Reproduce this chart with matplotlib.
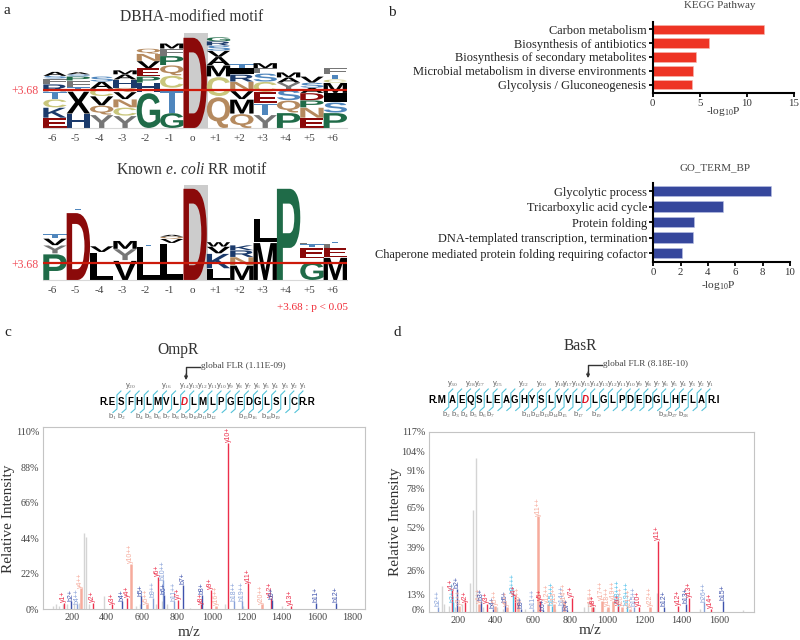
#!/usr/bin/env python3
# -*- coding: utf-8 -*-
"""Motif logos, enrichment bars and two annotated MS/MS spectra."""

import matplotlib
matplotlib.use('Agg')
import matplotlib.pyplot as plt
from matplotlib.font_manager import FontProperties
from matplotlib.patches import PathPatch
from matplotlib.textpath import TextPath
from matplotlib.transforms import Affine2D

plt.rcParams['font.family'] = ['Liberation Serif', 'DejaVu Serif']
plt.rcParams['mathtext.fontset'] = 'custom'
plt.rcParams['mathtext.rm'] = 'Liberation Serif'
plt.rcParams['mathtext.it'] = 'Liberation Serif:italic'
plt.rcParams['mathtext.bf'] = 'Liberation Serif:bold'

# LOGO DATA (letters from the bottom of each stack upwards)
POSITIONS = ['-6', '-5', '-4', '-3', '-2', '-1', 'o',
             '+1', '+2', '+3', '+4', '+5', '+6']
MOTIF1_LETTERS = ['EKCTRFSA', 'HXTFPSA', 'YQVCAS', 'YCNVQHAM', 'GHPEVNQ',
                  'GTCQPFM', 'D', 'QCMAVSRG', 'QMVNRIT', 'YTECSFM', 'PQSYAM',
                  'ENPDASV', 'PSIMCTF']
MOTIF1_HEIGHTS = [[1.0, 1.0, 0.8, 0.75, 0.7, 0.55, 0.25, 0.4],
                  [1.4, 2.2, 0.4, 0.6, 0.4, 0.2, 0.2],
                  [1.3, 0.9, 0.9, 0.7, 0.7, 0.5],
                  [1.2, 0.8, 0.8, 0.7, 0.4, 0.8, 0.5, 0.4],
                  [3.5, 0.9, 0.6, 0.8, 0.7, 0.7, 0.5],
                  [1.5, 2.4, 1.2, 1.0, 0.9, 0.7, 0.5],
                  [9.1],
                  [3.1, 1.9, 1.1, 0.8, 0.6, 0.5, 0.4, 0.4],
                  [1.4, 1.4, 0.8, 0.9, 0.7, 0.6, 0.4],
                  [1.3, 1.1, 1.1, 1.0, 0.8, 0.5, 0.5],
                  [1.5, 1.2, 1.0, 0.7, 0.5, 0.5],
                  [1.0, 1.0, 0.7, 0.7, 0.5, 0.5, 0.6],
                  [1.5, 1.0, 0.9, 1.0, 0.3, 0.5, 0.6]]
MOTIF2_LETTERS = ['PYVT', 'DT', 'LV', 'VYM', 'LT', 'LVQA', 'D', 'LKVW',
                  'MNRK', 'ML', 'P', 'G ETF', 'MEFT']
MOTIF2_HEIGHTS = [[5.9, 1.8, 1.5, 1.0], [15.4, 0.3], [6.2, 1.3],
                  [4.4, 2.5, 1.8], [7.5, 0.2], [8.2, 0.9, 0.5, 0.4], [21.0],
                  [2.6, 3.3, 1.5, 1.0], [3.3, 1.8, 1.5, 1.1], [8.5, 5.1],
                  [21.0], [4.1, 0.7, 2.4, 0.8, 0.2], [5.1, 2.0, 1.0, 0.4]]
THRESHOLD = 3.68

# ENRICHMENT DATA
KEGG_TERMS = ['Carbon metabolism', 'Biosynthesis of antibiotics',
              'Biosynthesis of secondary metabolites',
              'Microbial metabolism in diverse environments',
              'Glycolysis / Gluconeogenesis']
KEGG_VALUES = [11.8, 6.0, 4.6, 4.3, 4.2]
GO_TERMS = ['Glycolytic process', 'Tricarboxylic acid cycle',
            'Protein folding', 'DNA-templated transcription, termination',
            'Chaperone mediated protein folding requiring cofactor']
GO_VALUES = [8.6, 5.1, 3.0, 2.9, 2.1]

# SPECTRUM DATA
OMPR_LABELS = ['y1+', 'b2+', 'b4++', 'y4++', 'y2+', 'y3+', 'b4+', 'y4+',
               'y10++', 'b5+', 'y5++', 'b9++', 'y6+', 'b10++', 'b6+', 'b11++',
               'y7+', 'b7+', 'y8+', 'b8+', 'y9+', 'y16++', 'y10+', 'b18++',
               'b19++', 'y11+', 'y20++', 'y12+', 'b9+', 'y13+', 'b11+', 'b12+']
OMPR_MZ = [156, 194, 232, 251, 320, 432, 486, 518, 537, 596, 630, 663, 691,
           720, 730, 785, 810, 834, 939, 945, 994, 1025, 1095, 1128, 1173,
           1209, 1286, 1337, 1347, 1451, 1594, 1709]
OMPR_INT = [4, 5, 3, 13, 4, 3, 5, 7, 28, 8, 3, 7, 20, 18, 9, 5, 6, 15, 3, 9,
            12, 2, 103, 5, 5, 16, 3, 7, 6, 2, 4, 4]
OMPR_GRAY_MZ = [95, 110, 125, 150, 175, 215, 240, 270, 284, 300, 385, 570,
                590, 680, 715, 745, 875, 1076, 1180, 1400, 1420]
OMPR_GRAY_INT = [2, 3, 2, 3, 3, 3, 4, 47, 45, 3, 8, 2, 3, 3, 5, 3, 1, 3, 2,
                 2, 1]
OMPR_X_TICKS = [200, 400, 600, 800, 1000, 1200, 1400, 1600, 1800]
OMPR_Y_TICKS = [0, 22, 44, 66, 88, 110]

BASR_LABELS = ['b2++', 'y1+', 'b2+', 'b3+++', 'y3++', 'y2+', 'y4++', 'b3+',
               'y3+', 'b4+', 'y5++', 'b5+', 'y6++', 'b9+++', 'y4+', 'y8++',
               'b9+', 'b11++', 'y11++', 'y5+', 'b6+', 'y12++', 'b15+++',
               'y13++', 'b14++', 'y14++', 'b7+', 'y7+', 'y16++', 'y8+',
               'y17++', 'y18++', 'y19++', 'b18+++', 'y9+', 'y20++', 'b19+++',
               'y21++', 'b15++', 'y10+', 'y22++', 'y11+', 'b12+', 'y12+',
               'b13+', 'y13+', 'b26++', 'y14+', 'b15+']
BASR_MZ = [93, 164, 195, 172, 205, 236, 311, 322, 352, 384, 397, 451, 460,
           495, 504, 522, 537, 600, 630, 639, 653, 680, 701, 714, 755, 770,
           785, 809, 916, 925, 970, 1002, 1033, 1056, 1059, 1077, 1104, 1122,
           1145, 1170, 1230, 1271, 1305, 1382, 1421, 1441, 1520, 1557, 1620]
BASR_INT = [3, 14, 15, 6, 4, 6, 5, 7, 5, 2, 4, 6, 3, 12, 10, 6, 2, 2, 62, 7,
            1, 5, 4, 5, 4, 6, 1, 9, 3, 3, 7, 3, 7, 5, 4, 3, 4, 2, 3, 3, 3, 46,
            3, 4, 5, 9, 6, 2, 7]
BASR_GRAY_MZ = [112, 125, 150, 180, 220, 263, 281, 295, 330, 410, 440, 560,
                720, 875, 898, 930, 1000, 1265, 1500, 1731]
BASR_GRAY_INT = [17, 5, 4, 3, 5, 19, 66, 100, 3, 3, 2, 2, 2, 3, 6, 3, 2, 12,
                 2, 1]
BASR_X_TICKS = [200, 400, 600, 800, 1000, 1200, 1400, 1600]
BASR_Y_TICKS = [0, 13, 26, 39, 52, 65, 78, 91, 104, 117]
BASR_Y_LABEL_AT = [1.5, 11.5, 26.6, 41.8, 55, 68, 80, 92, 104, 117]

# PEPTIDE DATA
OMPR_SEQ = list('SFHLMVLDLMLPGEDGLSIC')
OMPR_Y_IONS = ['20', '16', '14', '13', '12', '11', '10', '9', '8', '7', '6',
               '5', '4', '3', '2', '1']
OMPR_Y_SLOT = [1, 5, 7, 8, 9, 10, 11, 12, 13, 14, 15, 16, 17, 18, 19, 20]
OMPR_B_IONS = ['1', '2', '4', '5', '6', '7', '8', '9', '10', '11', '12', '15',
               '16', '18', '19']
OMPR_B_SLOT = [-1, 0, 2, 3, 4, 5, 6, 7, 8, 9, 10, 13.5, 14.5, 16, 17]
BASR_SEQ = list('AEQSLEAGHYSLVVLDLGLPDEDGLHFLA')
BASR_Y_IONS = ['30', '28', '27', '25', '22', '20', '18', '17', '16', '15',
               '14', '13', '12', '11', '10', '9', '8', '7', '6', '5', '4',
               '3', '2', '1']
BASR_Y_SLOT = [0, 2, 3, 5, 8, 10, 12, 13, 14, 15, 16, 17, 18, 19, 20, 21, 22,
               23, 24, 25, 26, 27, 28, 29]
BASR_B_IONS = ['2', '3', '4', '5', '6', '7', '11', '12', '13', '14', '15',
               '17', '19', '26', '27', '28']
BASR_B_SLOT = [-0.7, 0.3, 1.3, 2.3, 3.3, 4.3, 8.4, 9.4, 10.4, 11.4, 12.4,
               14.2, 16.2, 23.8, 24.8, 26]

LETTER_COLORS = {'E': '#8b0a0a', 'D': '#8b0a0a', 'K': '#1b3a6b',
                 'R': '#1b3a6b', 'H': '#1b3a6b', 'S': '#4f86bd',
                 'T': '#4f86bd', 'G': '#1f6b48', 'P': '#1f6b48',
                 'Q': '#b58a5f', 'N': '#b58a5f', 'C': '#c9c67c',
                 'Y': '#767676', 'F': '#767676'}
ION_COLORS = {'y+': '#ec2f4b', 'y++': '#f6ab9c', 'b+': '#3f53ad',
              'b++': '#86a0d8', 'b+++': '#48bdea'}
TEXT_GRAY = '#444444'
FIG_W, FIG_H = 800, 640
LETTER_FONT = FontProperties(family='Liberation Sans', weight='bold')


def px_axes(fig, left, top, right, bottom):
    """Adds axes from a box given in image pixels."""
    return fig.add_axes([left / FIG_W, 1 - bottom / FIG_H,
                         (right - left) / FIG_W, (bottom - top) / FIG_H])


def draw_letter(ax, letter, x_center, y_bottom, height):
    """Stretches one glyph to fill a logo cell."""
    path = TextPath((0, 0), letter, size=1, prop=LETTER_FONT)
    box = path.get_extents()
    trans = (Affine2D().translate(-box.x0, -box.y0)
             .scale(1.0 / box.width, height / box.height)
             .translate(x_center - 0.5, y_bottom))
    ax.add_patch(PathPatch(path, transform=trans + ax.transData,
                           facecolor=LETTER_COLORS.get(letter, 'black'),
                           edgecolor='none', lw=0))


def draw_logo(fig, box, letters, heights, y_top, title, title_y):
    ax = px_axes(fig, *box)
    ax.set_xlim(-0.5, 12.5)
    ax.set_ylim(0, y_top)
    ax.bar(6.03, y_top, width=1.0, color='#cccccc', zorder=0)
    for col, (stack, sizes) in enumerate(zip(letters, heights)):
        y_bottom = 0
        for letter, size in zip(stack, sizes):
            if letter != ' ':
                draw_letter(ax, letter, col, y_bottom, size * 0.96)
            y_bottom += size
    ax.axhline(THRESHOLD, color='#cc1a0a', lw=1.6, zorder=5)
    for side in ax.spines:
        ax.spines[side].set_visible(False)
    ax.spines['bottom'].set_visible(True)
    ax.spines['bottom'].set_color('#d8d8d8')
    ax.set_yticks([THRESHOLD], ['+3.68'], color='#f04a55', fontsize=8.5)
    ax.set_xticks([i - 0.12 for i in range(13)], POSITIONS, color=TEXT_GRAY,
                  fontsize=8)
    ax.tick_params(length=0, axis='both', pad=3)
    ax.tick_params(axis='x', pad=4.5)
    fig.text(192 / FIG_W, 1 - title_y / FIG_H, title, ha='center',
             va='center', fontsize=11.2, color='#333333')
    return ax


def draw_bars(fig, box, terms, values, color, x_max, x_step, title, title_xy,
              label_xy):
    ax = px_axes(fig, *box)
    ax.barh(range(len(terms)), values, height=0.68, color=color,
            edgecolor='#f6b8b0' if color == '#ee3424' else '#b9c2e6', lw=0.4)
    ax.set_ylim(len(terms) - 0.42, -0.55)
    ax.set_xlim(0, x_max)
    ax.set_yticks(range(len(terms)), terms, fontsize=8.9, color='#222222')
    ax.set_xticks(range(0, x_max + 1, x_step))
    ax.tick_params(axis='x', labelsize=7.8, length=3, width=1.3, pad=1.5,
                   labelcolor='#333333')
    ax.tick_params(axis='y', length=3, width=1.3, pad=1.5)
    ax.spines['top'].set_visible(False)
    ax.spines['right'].set_visible(False)
    ax.spines['left'].set_linewidth(1.5)
    ax.spines['bottom'].set_linewidth(1.5)
    fig.text(title_xy[0] / FIG_W, 1 - title_xy[1] / FIG_H, title, ha='center',
             va='center', fontsize=7.9, color=TEXT_GRAY)
    fig.text(label_xy[0] / FIG_W, 1 - label_xy[1] / FIG_H, r'-log$_{10}$P',
             ha='center', va='center', fontsize=8.2, color='#333333')


def ion_kind(label):
    """Splits 'y10++' into its series and charge, e.g. 'y++'."""
    return label[0] + '+' * label.count('+')


def draw_spectrum(fig, box, xlim, ylim, labels, mz, intensity, gray_mz,
                  gray_int, x_ticks, y_ticks, y_label_at):
    ax = px_axes(fig, *box)
    ax.vlines(gray_mz, 0, gray_int, color='#d4d4d4', lw=1.0, zorder=1)
    for label, m, value in zip(labels, mz, intensity):
        kind = ion_kind(label)
        color = ION_COLORS[kind]
        ax.vlines(m, 0, value, color=color, lw=1.8 if kind == 'y++' else 1.0,
                  zorder=2)
        ax.text(m, value + 0.4, label, rotation=90, ha='center', va='bottom',
                fontsize=5, color=color, family='Liberation Sans', zorder=3)
    ax.set_xlim(*xlim)
    ax.set_ylim(*ylim)
    ax.set_xticks(x_ticks)
    ax.set_yticks(y_label_at, [f'{t}%' for t in y_ticks])
    ax.tick_params(length=0, labelsize=7.3, labelcolor=TEXT_GRAY, pad=3)
    for side in ax.spines:
        ax.spines[side].set_color('#c4c4c4')
    return ax


def draw_peptide(over, seq, left, head, tail, step, y_ions, y_slot, b_ions,
                 b_slot, mod_index, flr_text, arrow_x, arrow_y, title,
                 title_xy):
    over.text(*title_xy, title, ha='center', va='center', fontsize=11.2,
              color='#333333')
    y_mid = arrow_y + 22
    centers = [left + i * step for i in range(len(seq))]
    for i, letter in enumerate(seq):
        modified = i == mod_index
        over.text(centers[i], y_mid, letter, ha='center', va='center',
                  fontsize=7, family='Liberation Sans', weight='bold',
                  style='italic' if modified else 'normal',
                  color='#e01020' if modified else 'black')
    over.text(left - head, y_mid, seq_ends[title][0], ha='center', va='center',
              fontsize=7, family='Liberation Sans', weight='bold')
    over.text(centers[-1] + tail, y_mid, seq_ends[title][1], ha='center',
              va='center', fontsize=7, family='Liberation Sans', weight='bold')
    for c in centers + [centers[-1] + step]:
        gap = c - step / 2
        over.plot([gap + 4.5, gap + 0.5, gap + 0.5, gap - 3.5],
                  [y_mid - 11, y_mid - 7, y_mid + 7, y_mid + 10.5],
                  color='#52c2d8', lw=0.8)
    for ion, slot in zip(y_ions, y_slot):
        over.text(left + slot * step, y_mid - 16, rf'y$_{{{ion}}}$',
                  ha='center', va='center', fontsize=5.5, color='#666666',
                  family='Liberation Sans')
    for ion, slot in zip(b_ions, b_slot):
        over.text(left + slot * step, y_mid + 14.5, rf'b$_{{{ion}}}$',
                  ha='center', va='center', fontsize=5.5, color='#666666',
                  family='Liberation Sans')
    over.plot([arrow_x + 14, arrow_x, arrow_x], [arrow_y - 13, arrow_y - 13,
                                                 arrow_y - 3],
              color='#333333', lw=1)
    over.annotate('', xy=(arrow_x, arrow_y), xytext=(arrow_x, arrow_y - 6),
                  arrowprops=dict(arrowstyle='-|>', color='#333333', lw=0.8,
                                  mutation_scale=5, shrinkA=0, shrinkB=0))
    over.text(arrow_x + 15, arrow_y - 14, flr_text, ha='left', va='center',
              fontsize=6.7, color=TEXT_GRAY)


seq_ends = {'OmpR': ('R.E', 'R.R'), 'BasR': ('R.M', 'R.I')}

fig = plt.figure(figsize=(8, 6.4), dpi=100)

# panel a
draw_logo(fig, (43.3, 33, 347, 128), MOTIF1_LETTERS, MOTIF1_HEIGHTS, 9.2,
          'DBHA-modified motif', 17)
draw_logo(fig, (43.3, 185, 347, 280), MOTIF2_LETTERS, MOTIF2_HEIGHTS, 21.0,
          r'Known $\mathit{e.\,coli}$ RR motif', 170)

# panel b
draw_bars(fig, (652.5, 21.7, 794, 92.7), KEGG_TERMS, KEGG_VALUES, '#ee3424',
          15, 5, 'KEGG Pathway', (720, 5), (723, 112))
draw_bars(fig, (653.3, 182.7, 790, 262), GO_TERMS, GO_VALUES, '#36479c',
          10, 2, 'GO_TERM_BP', (715, 168), (718, 285))

# panels c and d
draw_spectrum(fig, (43.3, 426.7, 365, 609.3), (38, 1876), (0, 113),
              OMPR_LABELS, OMPR_MZ, OMPR_INT, OMPR_GRAY_MZ, OMPR_GRAY_INT,
              OMPR_X_TICKS, OMPR_Y_TICKS, OMPR_Y_TICKS)
draw_spectrum(fig, (429.3, 432, 754.3, 611.7), (44, 1790), (0, 117),
              BASR_LABELS, BASR_MZ, BASR_INT, BASR_GRAY_MZ, BASR_GRAY_INT,
              BASR_X_TICKS, BASR_Y_TICKS, BASR_Y_LABEL_AT)

# overlay in image pixels for the peptide maps and the loose labels
over = fig.add_axes([0, 0, 1, 1], facecolor='none')
over.set_xlim(0, FIG_W)
over.set_ylim(FIG_H, 0)
over.axis('off')

draw_peptide(over, OMPR_SEQ, 121, 13, 13, 9.1, OMPR_Y_IONS, OMPR_Y_SLOT,
             OMPR_B_IONS, OMPR_B_SLOT, 7, 'global FLR (1.11E-09)', 186, 380,
             'OmpR', (178, 350))
draw_peptide(over, BASR_SEQ, 452.7, 15, 13, 8.87, BASR_Y_IONS, BASR_Y_SLOT,
             BASR_B_IONS, BASR_B_SLOT, 15, 'global FLR (8.18E-10)', 588, 378,
             'BasR', (580, 346))

for letter, x, y in [('a', 4, 10), ('b', 388, 12), ('c', 4, 332), ('d', 393, 332)]:
    over.text(x, y, letter, ha='left', va='center', fontsize=11, color='#222222')
over.text(312, 308, '+3.68 : p < 0.05', ha='center', va='center', fontsize=8,
          color='#f02a35')
for x, y in [(9, 519), (395, 522)]:
    over.text(x, y, 'Relative Intensity', rotation=90, ha='center',
              va='center', fontsize=11, color='#333333')
for x, y in [(189, 632), (590, 631)]:
    over.text(x, y, 'm/z', ha='center', va='center', fontsize=11,
              color='#333333')

fig.savefig('out.png', dpi=100)
